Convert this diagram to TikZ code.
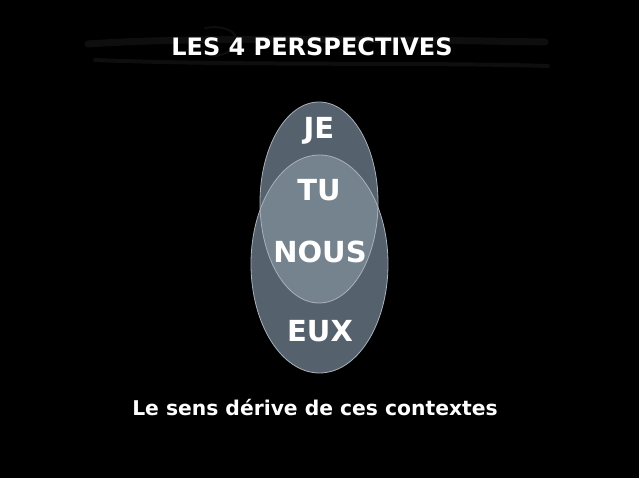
\documentclass[tikz,border=0pt]{standalone}
\usepackage{fontspec}
\setmainfont{DejaVu Sans}
\usepackage{tikz}
\usetikzlibrary{backgrounds}
\definecolor{slatedark}{HTML}{56616E}
\definecolor{slatelight}{HTML}{75838F}
\definecolor{slaterim}{HTML}{A9B1B9}
\definecolor{brushgray}{HTML}{0E0E0E}
\tikzstyle{darkshading}=[fill=slatedark]
\tikzstyle{lightshading}=[fill=slatelight]
\tikzstyle{rim}=[draw=slaterim, line width=0.8pt]
\tikzstyle{word}=[text=white, font=\fontsize{29}{33}\selectfont\bfseries, inner sep=0pt]

\begin{document}
\begin{tikzpicture}[x=1pt,y=-1pt]
		\fill[black] (0,0) rectangle (639,478);
		\useasboundingbox (0,0) rectangle (639,478);
		\draw[brushgray, line width=7pt, line cap=round] (88,44) .. controls (200,36) and (420,40) .. (545,42);
		\draw[brushgray, line width=4pt, line cap=round] (95,60) .. controls (250,66) and (420,62) .. (548,66);
		\draw[brushgray, line width=2pt, line cap=round] (205,28) .. controls (240,22) and (250,50) .. (215,56);
		\fill[darkshading] (319.5,264) ellipse (68.5 and 109);
		\fill[darkshading] (319,202.5) ellipse (59 and 100.5);
		\begin{scope}
			\clip (319,202.5) ellipse (59 and 100.5);
			\fill[lightshading] (319.5,264) ellipse (68.5 and 109);
		\end{scope}
		\draw[rim] (319.5,264) ellipse (68.5 and 109);
		\draw[rim] (319,202.5) ellipse (59 and 100.5);
		\node[text=white, font=\fontsize{24}{28}\selectfont\bfseries] (title) at (312,47) {LES 4 PERSPECTIVES};
		\node[word] (je) at (319,131) {JE};
		\node[word] (tu) at (319,190) {TU};
		\node[word] (nous) at (320,252) {NOUS};
		\node[word] (eux) at (320,331) {EUX};
		\node[text=white, font=\fontsize{20.3}{24}\selectfont\bfseries] (sens) at (315,408) {Le sens dérive de ces contextes};
	\end{tikzpicture}
\end{document}
